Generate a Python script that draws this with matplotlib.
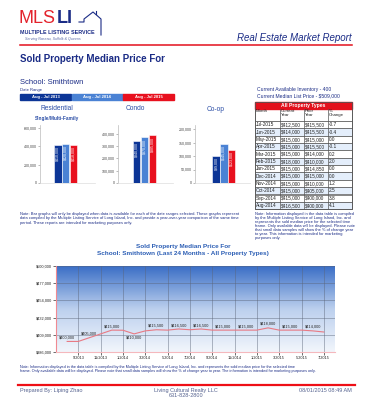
import numpy as np
import matplotlib
matplotlib.use("Agg")
import matplotlib.pyplot as plt
from matplotlib.colors import LinearSegmentedColormap
from matplotlib.patches import Rectangle

plt.rcParams['font.family'] = ['Liberation Sans', 'DejaVu Sans']

# ---- data ----
ranges = ["Aug - Jul 2013", "Aug - Jul 2014", "Aug - Jul 2015"]
range_colors = ["#0c3596", "#4a82d4", "#e8101e"]

res_vals = [410000, 420000, 418000]
condo_vals = [340000, 370000, 385000]
coop_vals = [99000, 145000, 123000]

tbl_months = ["Jul-2015", "Jun-2015", "May-2015", "Apr-2015", "Mar-2015", "Feb-2015",
              "Jan-2015", "Dec-2014", "Nov-2014", "Oct-2014", "Sep-2014", "Aug-2014"]
tbl_current = [412500, 414000, 415000, 415000, 415000, 418000,
               415000, 415000, 415000, 415000, 415000, 416500]
tbl_prior = [415500, 415500, 415000, 415500, 414000, 410000,
             414850, 415000, 410000, 405000, 400000, 400000]
tbl_change = [-0.7, -0.4, 0.0, -0.1, 0.2, 2.0, 0.0, 0.0, 1.2, 2.5, 3.8, 4.1]

line_prices = [400000, 400000, 405000, 410000, 415000, 414850, 410000, 414000,
               415500, 415000, 416500, 415500, 416500, 415000, 415000, 415000,
               415000, 415000, 418000, 415000, 415000, 415000, 414000, 412500]
xtick_labels = ["9/2013", "11/2013", "1/2014", "3/2014", "5/2014", "7/2014",
                "9/2014", "11/2014", "1/2015", "3/2015", "5/2015", "7/2015"]

W, H = 371, 400
NAVY = "#1b2c86"
BLUE = "#2a4da6"

fig = plt.figure(figsize=(W/100, H/100), dpi=100)
page = fig.add_axes([0, 0, 1, 1])
page.set_xlim(0, W); page.set_ylim(H, 0); page.axis("off")

def box(x0, y0, x1, y1):
    return [x0/W, 1-y1/H, (x1-x0)/W, (y1-y0)/H]

# ---- header / logo ----
page.text(19, 23, "MLS", color="#e3232c", fontsize=13, va="baseline")
page.text(57, 23, "LI", color=NAVY, fontsize=13, fontweight="bold", va="baseline")
page.plot([79, 84, 84, 93, 101, 101], [22, 22, 19, 12, 19, 35], color=NAVY, lw=0.8)
page.plot([96, 96], [14, 11], color=NAVY, lw=0.8)
page.text(20, 34, "MULTIPLE LISTING SERVICE", color=NAVY, fontsize=3.9, fontweight="bold")
page.text(25, 40, "Serving Nassau, Suffolk & Queens", color="#5a6aa8", fontsize=2.6, style="italic")
page.plot([20, 352], [44.5, 44.5], color="#e3101c", lw=1.1)
page.text(352, 41, "Real Estate Market Report", color=NAVY, fontsize=7, style="italic", ha="right")

page.text(20, 62, "Sold Property Median Price For", color=NAVY, fontsize=7, fontweight="bold")
page.text(20, 84, "School: Smithtown", color=NAVY, fontsize=5.5)
page.text(20, 91.5, "Date Range", color=NAVY, fontsize=3)

for i, (lab, c) in enumerate(zip(ranges, range_colors)):
    x0 = 20 + i*51.5
    page.add_patch(Rectangle((x0, 93.5), 51, 6.5, color=c))
    page.text(x0 + 25.5, 97, lab, color="white", fontsize=3, fontweight="bold", ha="center", va="center")

page.text(257, 91, "Current Available Inventory - 400", color=NAVY, fontsize=3.6)
page.text(257, 97, "Current Median List Price - $509,000", color=NAVY, fontsize=3.6)

# ---- bar panels ----
def panel(b, vals, top, ticks, start):
    ax = fig.add_axes(box(*b))
    ax.bar([start + k for k in range(3)], vals, width=0.95, color=range_colors,
           edgecolor="#ffffff", linewidth=0.4, align="edge")
    for k, v in enumerate(vals):
        ax.text(start + k + 0.475, v - top*0.02, f"${v:,}", rotation=90, color="white",
                fontsize=2.6, ha="center", va="top")
    ax.set_xlim(0, 7); ax.set_ylim(0, top)
    ax.set_yticks(ticks)
    ax.set_yticklabels([f"{t:,}" for t in ticks], fontsize=2.6, color="#444444")
    ax.tick_params(axis="y", length=1.5, width=0.4, pad=1, color="#888888")
    ax.set_xticks([])
    for s in ["top", "right"]:
        ax.spines[s].set_visible(False)
    ax.spines["left"].set_color("#bbbbbb"); ax.spines["left"].set_linewidth(0.5)
    ax.spines["bottom"].set_color("#dddddd"); ax.spines["bottom"].set_linewidth(0.5)
    ax.patch.set_alpha(0)
    return ax

panel((40, 125, 95, 183), res_vals, 630000, [0, 200000, 400000, 600000], 1.8)
panel((118, 125, 173, 183), condo_vals, 470000, [0, 100000, 200000, 300000, 400000], 1.9)
panel((195, 125, 250, 183), coop_vals, 215000, [0, 50000, 100000, 150000, 200000], 2.2)

page.text(57, 110, "Residential", color=BLUE, fontsize=4.8, ha="center")
page.text(57, 120, "Single/Multi-Family", color=BLUE, fontsize=3.4, fontweight="bold", ha="center")
page.text(135, 110, "Condo", color=BLUE, fontsize=4.8, ha="center")
page.text(216, 111, "Co-op", color=BLUE, fontsize=4.8, ha="center")

page.text(20, 212, "Note: Bar graphs will only be displayed when data is available for each of the date ranges selected. These graphs represent\n"
          "data compiled by the Multiple Listing Service of Long Island, Inc. and provide a year-over-year comparison of the same time\n"
          "period. These reports are intended for marketing purposes only.",
          color=NAVY, fontsize=2.9, va="top", linespacing=1.1)

# ---- table ----
tx = [255, 280, 304, 328, 352]
page.add_patch(Rectangle((255, 102), 97, 6.5, color="#e3101c"))
page.text(303.5, 105.5, "All Property Types", color="white", fontsize=3.6, fontweight="bold", ha="center", va="center")
page.add_patch(Rectangle((255, 108.5), 97, 12.5, facecolor="white", edgecolor="#555555", lw=0.5, zorder=0.5))
hdrs = ["Month", "Current\nYear", "Prior\nYear", "%\nChange"]
for j, h in enumerate(hdrs):
    page.text(tx[j] + 1, 109.5, h, fontsize=3.2, va="top", color="#222222", linespacing=0.95, zorder=5)
rh = 7.35
for i in range(len(tbl_months)):
    y0 = 121 + i*rh
    page.add_patch(Rectangle((255, y0), 97, rh, facecolor="#e4eefb" if i % 2 else "white",
                             edgecolor="#555555", lw=0.5, zorder=0.5))
    cells = [tbl_months[i], f"${tbl_current[i]:,}", f"${tbl_prior[i]:,}", f"{tbl_change[i]:.1f}"]
    for j, c in enumerate(cells):
        page.text(tx[j] + 1, y0 + rh/2, c, fontsize=3.4, va="center", color="#222222")
for x in tx[1:-1]:
    page.plot([x, x], [108.5, 121 + 12*rh], color="#555555", lw=0.5)
page.add_patch(Rectangle((255, 102), 97, 19 + 12*rh, fill=False, edgecolor="#555555", lw=0.6))

page.text(255, 211.5, "Note: Information displayed in the data table is compiled\n"
          "by the Multiple Listing Service of Long Island, Inc. and\n"
          "represents the sold median price for the selected time\n"
          "frame. Only available data will be displayed. Please note\n"
          "that small data samples will show the % of change year\n"
          "to year. This information is intended for marketing\n"
          "purposes only.",
          color=NAVY, fontsize=2.9, va="top", linespacing=1.05)

# ---- line chart ----
page.text(183, 250, "Sold Property Median Price For\nSchool: Smithtown (Last 24 Months - All Property Types)",
          color="#2d5fb5", fontsize=4.6, fontweight="bold", ha="center", va="center", linespacing=1.3)

ax = fig.add_axes(box(56, 266, 335, 352))
ylo, yhi = 386000, 500000
x = np.arange(len(line_prices))
grad = np.linspace(1, 0, 256).reshape(-1, 1)
cmap = LinearSegmentedColormap.from_list("bg", ["#f2f6fc", "#bcd0ee", "#3a6ec6"])
ax.imshow(grad, extent=[-1, 24, ylo, yhi], aspect="auto", cmap=cmap, zorder=0, origin="upper")
ax.set_xlim(-1, 24); ax.set_ylim(ylo, yhi)
yt = np.linspace(ylo, yhi, 6)
ax.set_yticks(yt)
ax.set_yticklabels([f"${round(v/1000)*1000:,.0f}" for v in yt], fontsize=2.8, color="#222222")
ax.set_xticks(np.arange(1, 24, 2))
ax.set_xticklabels(xtick_labels, fontsize=2.8, color="#222222")
ax.tick_params(length=2, width=0.5, pad=1, color="#333333")
ax.grid(True, color="#5a6478", lw=0.45, alpha=0.7)
ax.plot(x, line_prices, color="#e87a84", lw=0.8, zorder=3)
for i in range(0, len(line_prices), 2):
    p = line_prices[i]
    below = i > 0 and p < line_prices[i-1] and p < line_prices[i+1]
    ax.text(i, p + (-2500 if below else 2500), f"${p:,}", fontsize=2.8, ha="center",
            va="top" if below else "bottom", color="#222222", zorder=4)
for s in ["top", "right"]:
    ax.spines[s].set_visible(False)
ax.spines["left"].set_color("#f08a92"); ax.spines["left"].set_linewidth(0.8)
ax.spines["bottom"].set_color("#f5b8bd"); ax.spines["bottom"].set_linewidth(0.8)

page.text(20, 365, "Note: Information displayed in the data table is compiled by the Multiple Listing Service of Long Island, Inc. and represents the sold median price for the selected time\n"
          "frame. Only available data will be displayed. Please note that small data samples will show the % of change year to year. The information is intended for marketing purposes only.",
          color=NAVY, fontsize=2.7, va="top", linespacing=1.1)

# ---- footer ----
page.plot([18, 355], [384.5, 384.5], color="#ee0f16", lw=1.6)
page.text(20, 390.5, "Prepared By: Liping Zhao", color="#55628f", fontsize=4, va="center")
page.text(186, 393, "Living Cultural Realty LLC\n631-828-2800", color="#55628f", fontsize=4,
          ha="center", va="center", linespacing=1.0)
page.text(352, 390.5, "08/01/2015 08:49 AM", color="#55628f", fontsize=4, ha="right", va="center")

fig.savefig("out.png", dpi=100)
